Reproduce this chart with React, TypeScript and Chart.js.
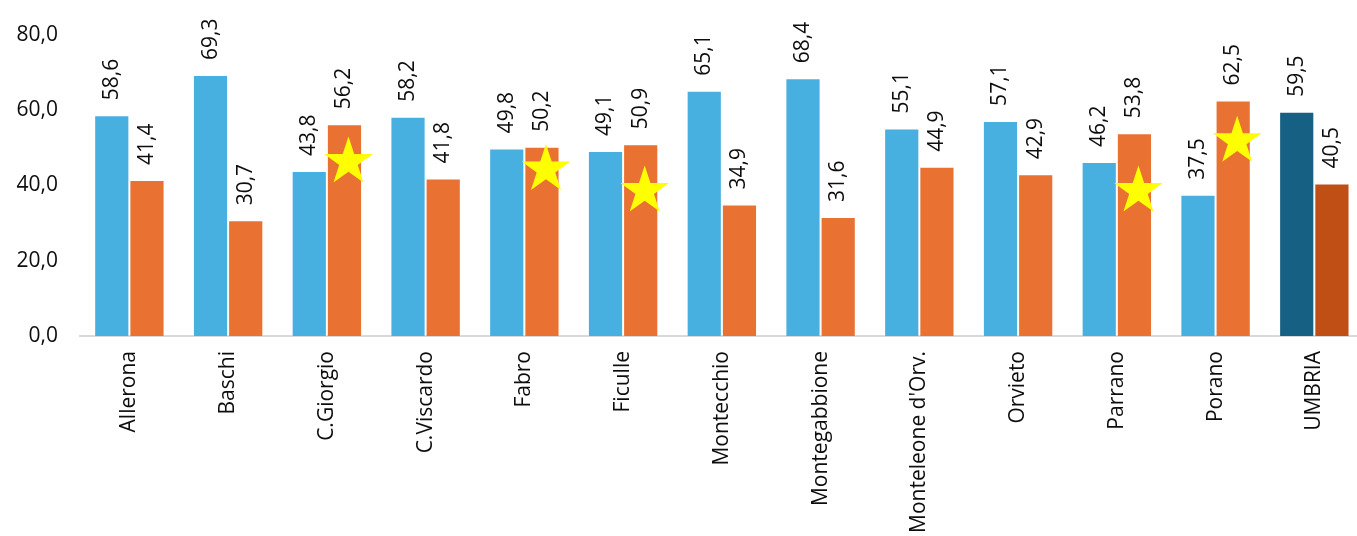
import React, { useEffect, useRef } from "react";
import { Chart, registerables } from "chart.js";

Chart.register(...registerables);

const categories = [
  "Allerona",
  "Baschi",
  "C.Giorgio",
  "C.Viscardo",
  "Fabro",
  "Ficulle",
  "Montecchio",
  "Montegabbione",
  "Monteleone d'Orv.",
  "Orvieto",
  "Parrano",
  "Porano",
  "UMBRIA",
];
const series1 = [58.6, 69.3, 43.8, 58.2, 49.8, 49.1, 65.1, 68.4, 55.1, 57.1, 46.2, 37.5, 59.5];
const series2 = [41.4, 30.7, 56.2, 41.8, 50.2, 50.9, 34.9, 31.6, 44.9, 42.9, 53.8, 62.5, 40.5];
const starValues: (number | null)[] = [null, null, 46.2, null, 44.2, 38.5, null, null, null, null, 38.5, 51.7, null];
const yTicks = [0, 20, 40, 60, 80];

const BLUE = "#48B0E0";
const ORANGE = "#E97132";
const DARK_BLUE = "#166083";
const DARK_ORANGE = "#C04F15";
const FONT = "'Open Sans', sans-serif";
const TEXT = "#0d0d0d";

const fmt = (v: number) => v.toFixed(1).replace(".", ",");

const labelsPlugin = {
  id: "barLabelsAndStars",
  afterDatasetsDraw(chart: any) {
    const ctx = chart.ctx;
    const yScale = chart.scales.y;
    ctx.save();
    ctx.font = `21px ${FONT}`;
    ctx.fillStyle = TEXT;
    ctx.textAlign = "left";
    ctx.textBaseline = "middle";
    chart.data.datasets.forEach((ds: any, di: number) => {
      const meta = chart.getDatasetMeta(di);
      meta.data.forEach((bar: any, i: number) => {
        const v = ds.data[i];
        ctx.save();
        ctx.translate(bar.x, bar.y - 15);
        ctx.rotate(-Math.PI / 2);
        ctx.fillText(fmt(v), 0, 0);
        ctx.restore();
      });
    });
    // stars over orange bars
    const meta2 = chart.getDatasetMeta(1);
    ctx.fillStyle = "#FFFF00";
    starValues.forEach((sv, i) => {
      if (sv == null) return;
      const bar: any = meta2.data[i];
      const cx = bar.x + 4;
      const cy = yScale.getPixelForValue(sv);
      const R = 25.5;
      const r = R * 0.382;
      ctx.beginPath();
      for (let k = 0; k < 10; k++) {
        const ang = -Math.PI / 2 + (k * Math.PI) / 5;
        const rad = k % 2 === 0 ? R : r;
        const px = cx + rad * Math.cos(ang);
        const py = cy + rad * Math.sin(ang);
        if (k === 0) ctx.moveTo(px, py);
        else ctx.lineTo(px, py);
      }
      ctx.closePath();
      ctx.fill();
    });
    ctx.restore();
  },
};

export default function App() {
  const ref = useRef<HTMLCanvasElement | null>(null);
  useEffect(() => {
    if (!ref.current) return;
    const last = categories.length - 1;
    const chart = new Chart(ref.current, {
      type: "bar",
      data: {
        labels: categories,
        datasets: [
          {
            label: "Serie 1",
            data: series1,
            backgroundColor: series1.map((_, i) => (i === last ? DARK_BLUE : BLUE)),
            borderColor: "rgba(255,255,255,0.25)",
            borderWidth: 1,
            categoryPercentage: 0.713,
            barPercentage: 1,
          },
          {
            label: "Serie 2",
            data: series2,
            backgroundColor: series2.map((_, i) => (i === last ? DARK_ORANGE : ORANGE)),
            borderColor: "rgba(255,255,255,0.25)",
            borderWidth: 1,
            categoryPercentage: 0.713,
            barPercentage: 1,
          },
        ],
      },
      options: {
        responsive: false,
        animation: false,
        devicePixelRatio: 1,
        layout: { padding: { top: 33, right: 2.3, left: 0, bottom: 0 } },
        plugins: {
          legend: { display: false },
          tooltip: { enabled: false },
        },
        scales: {
          x: {
            grid: { display: false, drawTicks: false },
            border: { display: true, color: "#d9d9d9", width: 2 },
            ticks: {
              minRotation: 90,
              maxRotation: 90,
              autoSkip: false,
              padding: 15,
              color: TEXT,
              font: { family: FONT, size: 21 },
            },
            afterFit: (s: any) => {
              s.height = 200;
            },
          },
          y: {
            min: 0,
            max: 80,
            grid: { display: false, drawTicks: false },
            border: { display: false },
            afterBuildTicks: (s: any) => {
              s.ticks = yTicks.map((v) => ({ value: v }));
            },
            ticks: {
              padding: 22,
              color: TEXT,
              font: { family: FONT, size: 21 },
              callback: (v: any) => fmt(Number(v)),
            },
            afterFit: (s: any) => {
              s.width = 80;
            },
          },
        },
      },
      plugins: [labelsPlugin],
    });
    return () => chart.destroy();
  }, []);

  return (
    <div
      style={{
        position: "fixed",
        left: 0,
        top: 0,
        width: 1357,
        height: 536,
        overflow: "hidden",
        background: "#fff",
      }}
    >
      <canvas ref={ref} width={1366} height={536} style={{ display: "block" }} />
    </div>
  );
}
